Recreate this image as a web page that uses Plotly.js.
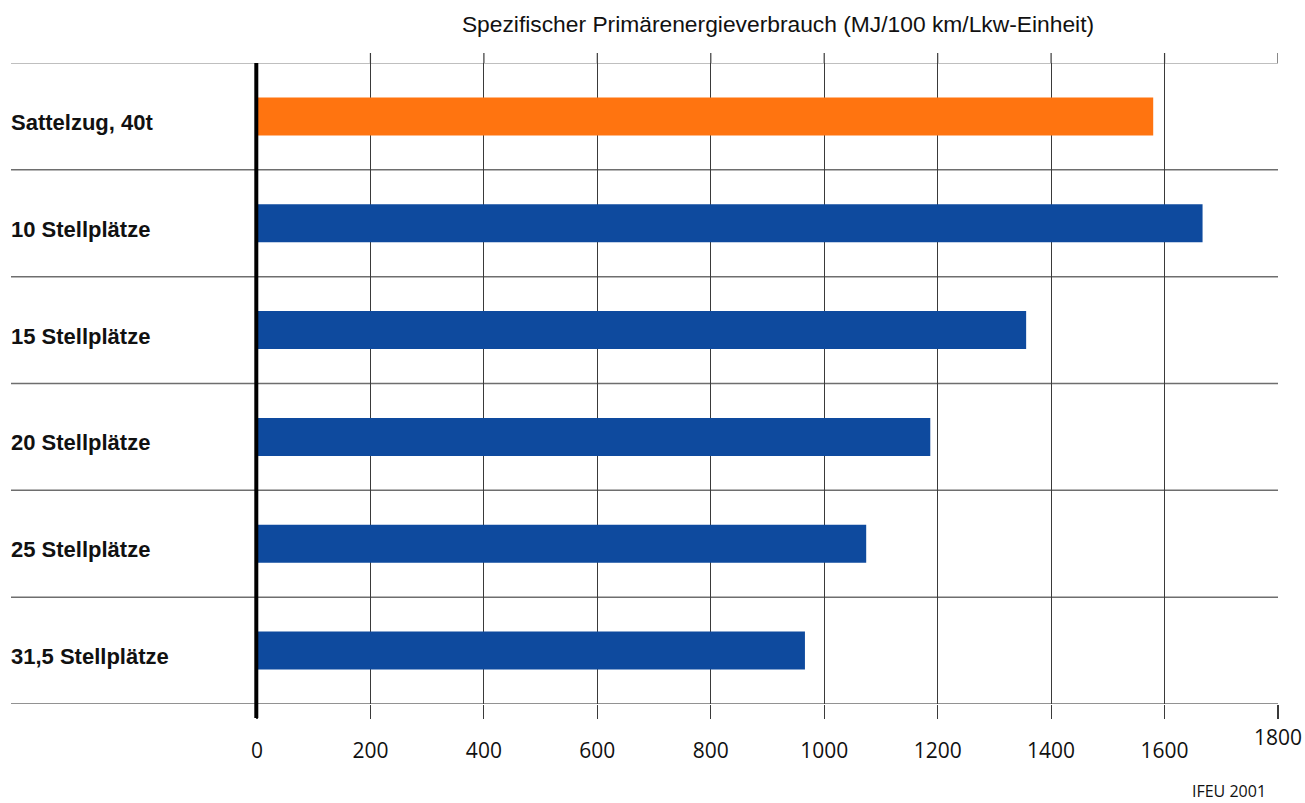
<!DOCTYPE html>
<html>
<head>
<meta charset="utf-8">
<script src="https://cdn.plot.ly/plotly-3.0.1.min.js"></script>
<style>
  html, body { margin: 0; padding: 0; background: #ffffff; }
  #chart { width: 1305px; height: 803px; }
</style>
</head>
<body>
<div id="chart"></div>
<script>
// Vehicle configurations (top to bottom)
const categories = [
  "Sattelzug, 40t",
  "10 Stellplätze",
  "15 Stellplätze",
  "20 Stellplätze",
  "25 Stellplätze",
  "31,5 Stellplätze"
];
// Specific primary energy use, MJ per 100 km and truck unit
const values = [1580, 1667, 1356, 1187, 1074, 966];
const barColors = ["#FF7410", "#0E4A9E", "#0E4A9E", "#0E4A9E", "#0E4A9E", "#0E4A9E"];

const tickValues = [0, 200, 400, 600, 800, 1000, 1200, 1400, 1600, 1800];
const tickLabels = ["0", "200", "400", "600", "800", "1000", "1200", "1400", "1600", ""];

const chartTitle = "Spezifischer Primärenergieverbrauch (MJ/100 km/Lkw-Einheit)";
const sourceNote = "IFEU 2001";

const W = 1305, H = 803;
const M = { l: 257, r: 27, t: 63, b: 99 };
const plotW = W - M.l - M.r;
const plotH = H - M.t - M.b;

const shapes = [];
// row separators, running out to the left edge of the labels
for (let i = 0; i <= categories.length; i++) {
  shapes.push({
    type: "line", xref: "paper", yref: "y",
    x0: -246 / plotW, x1: 1,
    y0: i - 0.5, y1: i - 0.5,
    line: { color: i === 0 ? "#AAAAAA" : "#6E6E6E", width: 1.5 },
    layer: "below"
  });
}
// short extensions of the value gridlines above the plot
tickValues.slice(1).forEach(v => {
  shapes.push({
    type: "line", xref: "x", yref: "paper",
    x0: v, x1: v, y0: 1, y1: 1 + 10 / plotH,
    line: { color: "#3A3A3A", width: 1.2 }
  });
});
// heavy baseline at zero (paper-referenced so it is not clipped at the plot edge)
shapes.push({
  type: "line", xref: "paper", yref: "paper",
  x0: -0.7 / plotW, x1: -0.7 / plotW, y0: -14 / plotH, y1: 1,
  line: { color: "#000000", width: 4 }
});

const annotations = categories.map(c => ({
  text: c, xref: "paper", yref: "y",
  x: -248 / plotW, y: c, xanchor: "left", yanchor: "middle",
  yshift: -6,
  showarrow: false,
  font: { family: "Liberation Sans, Arial, sans-serif", size: 22, color: "#111111", weight: "bold" }
}));
annotations.push({
  text: "1800", xref: "x", yref: "paper",
  x: 1800, y: (704 - 737) / plotH, xanchor: "center", yanchor: "middle",
  showarrow: false,
  font: { family: "Open Sans, sans-serif", size: 21, color: "#111111" }
});
annotations.push({
  text: sourceNote, xref: "paper", yref: "paper",
  x: (1229 - M.l) / plotW, y: (704 - 791) / plotH, xanchor: "center", yanchor: "middle",
  showarrow: false,
  font: { family: "Open Sans, sans-serif", size: 16, color: "#111111" }
});

const trace = {
  type: "bar",
  orientation: "h",
  y: categories,
  x: values,
  marker: { color: barColors, line: { width: 0 } },
  hoverinfo: "x+y"
};

const layout = {
  width: W, height: H,
  margin: M,
  paper_bgcolor: "#ffffff",
  plot_bgcolor: "#ffffff",
  showlegend: false,
  bargap: 0.645,
  title: {
    text: chartTitle,
    xref: "paper", x: (778 - M.l) / plotW, xanchor: "center",
    yref: "container", y: 1 - 24 / H, yanchor: "middle",
    font: { family: "Liberation Sans, Arial, sans-serif", size: 22.8, color: "#111111" }
  },
  xaxis: {
    range: [0, 1800],
    tickvals: tickValues,
    ticktext: tickLabels,
    showgrid: true,
    gridcolor: "#3A3A3A",
    gridwidth: 1.2,
    zeroline: false,
    showline: false,
    ticks: "outside",
    ticklen: 14,
    tickwidth: 1.2,
    tickcolor: "#3A3A3A",
    ticklabelstandoff: 14,
    tickfont: { family: "Open Sans, sans-serif", size: 21, color: "#111111" },
    fixedrange: true
  },
  yaxis: {
    type: "category",
    range: [categories.length - 0.5, -0.5],
    showticklabels: false,
    showgrid: false,
    zeroline: false,
    showline: false,
    ticks: "",
    fixedrange: true
  },
  shapes: shapes,
  annotations: annotations
};

Plotly.newPlot("chart", [trace], layout, { displayModeBar: false, staticPlot: true });
</script>
</body>
</html>
